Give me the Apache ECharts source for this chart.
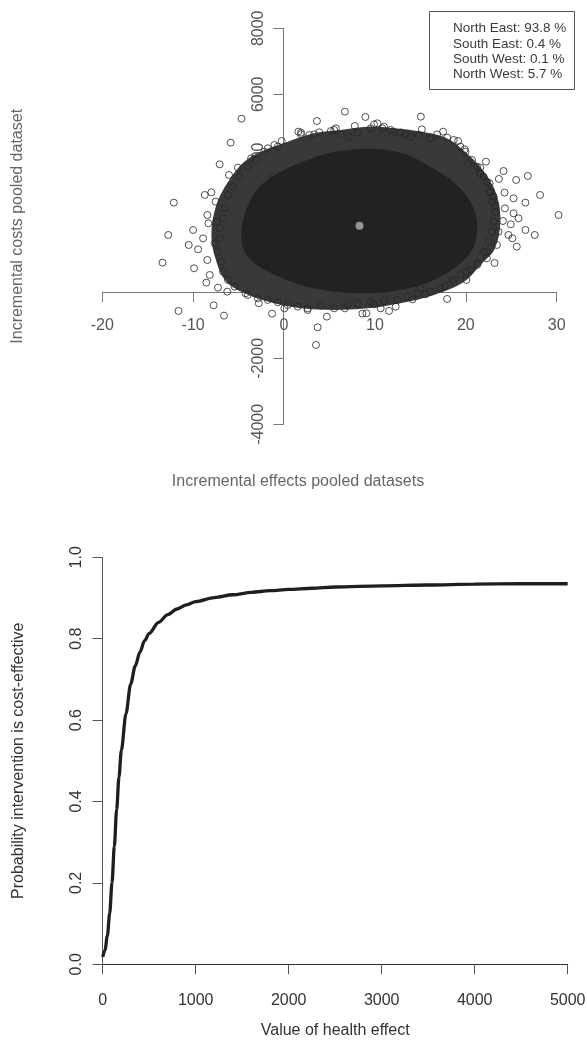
<!DOCTYPE html>
<html>
<head>
<meta charset="utf-8">
<script src="https://cdn.jsdelivr.net/npm/echarts@6/dist/echarts.min.js"></script>
<style>
html, body { margin: 0; padding: 0; background: #fff; }
#chart { width: 587px; height: 1041px; }
</style>
</head>
<body>
<div id="chart"></div>
<script>
/* cost-effectiveness plane */
const quadrantNames = ['North East', 'South East', 'South West', 'North West']
const quadrantPct = [93.8, 0.4, 0.1, 5.7]

const meanEffect = 8.3
const meanCost = 2020

// outline of the solid black core of the bootstrap cloud
const coreEffects = [-4.7, -4.35, -3.6, -2.5, -1.05, 0.8, 2.6, 4.8, 7.0, 9.2, 11.4, 13.6, 15.75, 17.6, 19.2, 20.5, 21.2, 21.2, 20.7, 19.4, 17.6, 15.0, 12.1, 9.2, 6.25, 3.3, 0.8, -1.4, -3.25, -4.35]
const coreCosts = [1740, 2340, 2850, 3250, 3555, 3810, 4010, 4210, 4310, 4360, 4310, 4160, 3860, 3555, 3200, 2750, 2240, 1740, 1280, 880, 525, 220, 40, -30, 0, 120, 320, 575, 880, 1230]

// outline of the densely packed ring around it
const ringEffects = [-8.0, -7.45, -6.15, -4.35, -2.15, 0.4, 3.3, 6.25, 9.2, 12.1, 15.0, 17.9, 20.1, 22.0, 23.4, 23.8, 23.2, 21.6, 19.8, 16.5, 12.8, 9.2, 5.5, 1.85, -1.8, -4.35, -6.35, -7.45]
const ringCosts = [1740, 2650, 3350, 3960, 4310, 4565, 4820, 4920, 5020, 4970, 4870, 4670, 4210, 3655, 2950, 2140, 1330, 830, 320, -80, -330, -485, -535, -485, -280, -30, 320, 930]

// single draws visible at the edge of the cloud [effect, cost]
const simDraws = [
	[-4.68, 5262], [6.69, 5474], [15.05, 5323], [8.95, 5313], [3.62, 5191], [-5.88, 4535],
	[-12.13, 2717], [-12.75, 1737], [-13.37, 899], [-10.01, 1889], [-9.9, 727], [-10.49, 1434],
	[-9.46, 1303], [-11.62, -566], [-7.75, -394], [-6.61, -707], [-1.32, -646], [3.69, -1060],
	[3.51, -1596], [4.71, -737], [8.62, -646], [9.06, -636], [17.94, -202], [30.2, 2343],
	[28.17, 2949], [27.58, 1737], [26.56, 2717], [26.82, 3525], [26.56, 1889], [25.61, 1384],
	[25.13, 1636], [24.69, 1737], [23.16, 889], [24.15, 3676], [25.54, 3404], [24.26, 3020],
	[25.25, 2848], [23.64, 3434], [22.21, 3959], [21.59, 3777], [25.8, 2242], [25.25, 2394],
	[24.3, 2545], [23.05, 2899], [24.95, 2060], [24.08, 2161], [19.15, 4585], [17.5, 4868],
	[15.16, 4939], [-0.26, 4585], [-1.06, 4464], [-7.09, 3878], [-6.06, 3555], [-8.73, 2949],
	[-8.0, 3030], [-7.53, 2747], [-8.44, 2343], [-7.45, 2121], [-8.33, 2091], [-8.91, 1636],
	[-8.44, 980], [-8.18, 525], [-8.55, 293], [-7.27, 141], [-6.25, 20], [-4.24, -30],
	[-2.78, -333], [0.04, -485], [2.59, -535], [6.69, -485], [11.55, -566], [12.28, -434],
	[14.14, -212], [15.56, -61], [17.68, 182], [18.56, 394], [20.06, 374], [20.13, 626],
	[21.34, 879], [22.32, 1030], [9.9, -364], [10.63, -485], [15.02, 121], [1.57, 4868],
	[1.86, 4787], [3.32, 4787], [5.52, 4919], [7.78, 5040], [9.9, 5090], [10.82, 4969],
	[11.73, 4919], [13.37, 4787], [19.88, 4333], [20.24, 3909], [22.62, 3303], [22.69, 3030],
	[23.24, 2626], [23.6, 1838], [23.42, 1434], [22.32, 1232], [-5.08, 3777], [-3.62, 4060],
	[-2.16, 4262], [-1.24, 3505],
	[1.86, 4838], [2.78, 4767], [3.87, 4848], [5.15, 4888], [5.7, 4969], [6.25, 4787],
	[7.16, 4717], [8.07, 4848], [9.54, 4969], [10.27, 5121], [11.0, 5020], [12.09, 4868],
	[12.82, 4848], [13.92, 4717], [14.83, 4767], [16.11, 4666], [16.84, 4787], [17.94, 4686],
	[18.67, 4616], [19.4, 4414], [19.95, 4262], [20.68, 4010], [21.23, 3808],
	[-7.09, 1636], [-7.64, 1485], [-7.27, 1232], [-6.91, 929], [-6.72, 626], [-6.17, 374],
	[-5.44, 172], [-7.09, 1939], [-6.72, 2242], [-6.54, 2545], [-6.17, 2949], [-5.63, 3202],
	[-4.9, 3505], [-3.98, 3808], [-3.07, 4010], [-1.79, 4363], [-0.69, 4414],
	[-3.98, -81], [-2.89, -182], [-1.79, -232], [-0.69, -303], [0.4, -384], [1.5, -434],
	[2.59, -485], [4.06, -404], [5.52, -485], [6.98, -384], [8.07, -333], [9.54, -283],
	[11.0, -263], [12.46, -232], [13.56, -131], [14.65, -30], [16.11, 20], [17.21, 121],
	[18.67, 323], [19.4, 525], [20.5, 677], [21.23, 828],
	[21.96, 1232], [22.51, 1535], [22.87, 1838], [23.05, 2141], [23.24, 2444], [22.87, 2747],
	[22.69, 3050], [22.32, 3353], [21.96, 3505], [21.59, 3606]
]

/* acceptability curve */
const wtpValues = [0, 25, 50, 75, 100, 125, 150, 175, 200, 250, 300, 350, 400, 450, 500, 600, 700, 800, 900, 1000, 1200, 1400, 1600, 1800, 2000, 2250, 2500, 3000, 3500, 4000, 4500, 5000]
const probCE = [0.018, 0.035, 0.07, 0.125, 0.2, 0.29, 0.38, 0.46, 0.525, 0.615, 0.688, 0.733, 0.767, 0.795, 0.813, 0.84, 0.859, 0.873, 0.883, 0.891, 0.901, 0.908, 0.914, 0.918, 0.921, 0.924, 0.927, 0.93, 0.932, 0.934, 0.935, 0.935]

const FONT = '"Liberation Sans", Arial, sans-serif'

const polygon = (effects, costs, fill, z) => {
	return {
		type: 'custom',
		xAxisIndex: 0,
		yAxisIndex: 0,
		z: z,
		silent: true,
		clip: false,
		data: [[0, 0]],
		renderItem: (params, api) => ({
			type: 'polygon',
			shape: {
				points: effects.map((e, i) => api.coord([e, costs[i]])),
				smooth: 0.35
			},
			style: { fill: fill }
		})
	}
}

const plain = v => String(v)

const chart = echarts.init(document.getElementById('chart'))

chart.setOption({
	animation: false,
	title: {
		text: quadrantNames.map((n, i) => `${n}: ${quadrantPct[i].toFixed(1)} %`).join('\n'),
		left: 429,
		top: 11,
		borderColor: '#555',
		borderWidth: 1,
		padding: [10, 8, 8, 24],
		textStyle: {
			fontFamily: FONT,
			fontSize: 13.5,
			lineHeight: 15.3,
			fontWeight: 'normal',
			color: '#3a3a3a'
		}
	},
	grid: [
		{ left: 102.3, right: 30.3, top: 28.3, bottom: 616.7, containLabel: false, outerBoundsMode: 'none' },
		{ left: 102.7, right: 19.3, top: 557.3, bottom: 76.7, containLabel: false, outerBoundsMode: 'none' }
	],
	xAxis: [
		{
			type: 'value',
			gridIndex: 0,
			min: -20,
			max: 30,
			interval: 10,
			position: 'bottom',
			offset: -132,
			splitLine: { show: false },
			axisLine: { onZero: false, lineStyle: { color: '#777', width: 1 } },
			axisTick: { length: 10, lineStyle: { color: '#777' } },
			axisLabel: { margin: 25, fontSize: 16, fontFamily: FONT, color: '#555', formatter: plain },
			name: 'Incremental effects pooled datasets',
			nameLocation: 'middle',
			nameGap: 181,
			nameTextStyle: { fontSize: 16, fontFamily: FONT, color: '#666', padding: [0, 63, 0, 0] }
		},
		{
			type: 'value',
			gridIndex: 1,
			min: 0,
			max: 5000,
			interval: 1000,
			splitLine: { show: false },
			axisLine: { lineStyle: { color: '#333', width: 1 } },
			axisTick: { length: 10, lineStyle: { color: '#555' } },
			axisLabel: { margin: 28, fontSize: 16, fontFamily: FONT, color: '#333', formatter: plain },
			name: 'Value of health effect',
			nameLocation: 'middle',
			nameGap: 58,
			nameTextStyle: { fontSize: 16, fontFamily: FONT, color: '#333' }
		}
	],
	yAxis: [
		{
			type: 'value',
			gridIndex: 0,
			min: -4000,
			max: 8000,
			interval: 2000,
			position: 'left',
			offset: -181,
			splitLine: { show: false },
			axisLine: { onZero: false, lineStyle: { color: '#777', width: 1 } },
			axisTick: { length: 10, lineStyle: { color: '#777' } },
			axisLabel: { rotate: 90, margin: 17, fontSize: 16, fontFamily: FONT, color: '#555', formatter: plain },
			name: 'Incremental costs pooled dataset',
			nameLocation: 'middle',
			nameRotate: 90,
			nameGap: 258,
			nameTextStyle: { fontSize: 16, fontFamily: FONT, color: '#666' }
		},
		{
			type: 'value',
			gridIndex: 1,
			min: 0,
			max: 1,
			interval: 0.2,
			splitLine: { show: false },
			axisLine: { lineStyle: { color: '#555', width: 1 } },
			axisTick: { length: 10, lineStyle: { color: '#555' } },
			axisLabel: {
				rotate: 90, margin: 18, fontSize: 16, fontFamily: FONT, color: '#333',
				formatter: v => v.toFixed(1)
			},
			name: 'Probability intervention is cost-effective',
			nameLocation: 'middle',
			nameRotate: 90,
			nameGap: 76,
			nameTextStyle: { fontSize: 16, fontFamily: FONT, color: '#333' }
		}
	],
	series: [
		polygon(ringEffects, ringCosts, '#393939', 2),
		polygon(coreEffects, coreCosts, '#222', 3),
		{
			type: 'scatter',
			xAxisIndex: 0,
			yAxisIndex: 0,
			z: 4,
			clip: false,
			symbol: 'circle',
			symbolSize: 7,
			itemStyle: { color: 'rgba(0,0,0,0)', borderColor: '#262626', borderWidth: 1 },
			data: simDraws
		},
		{
			type: 'scatter',
			xAxisIndex: 0,
			yAxisIndex: 0,
			z: 5,
			symbolSize: 8,
			itemStyle: { color: '#b3b3b3' },
			data: [[meanEffect, meanCost]]
		},
		{
			type: 'line',
			xAxisIndex: 1,
			yAxisIndex: 1,
			showSymbol: false,
			smooth: 0.3,
			smoothMonotone: 'x',
			lineStyle: { color: '#1e1e1e', width: 3.3 },
			data: wtpValues.map((w, i) => [w, probCE[i]])
		}
	]
})

window.onresize = () => {
	chart.resize()
}
</script>
</body>
</html>
